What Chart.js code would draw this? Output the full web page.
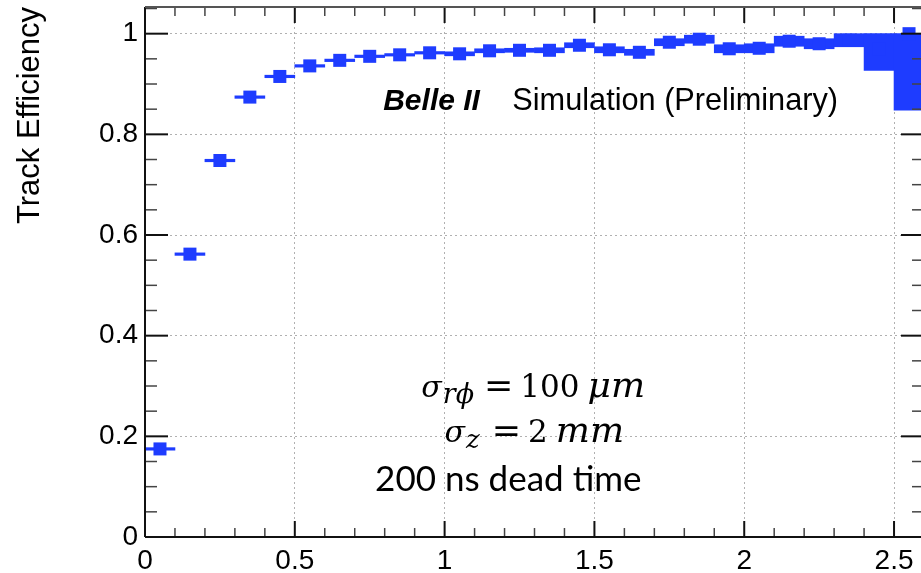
<!DOCTYPE html>
<html>
<head>
<meta charset="utf-8">
<title>Track Efficiency</title>
<script src="https://cdn.jsdelivr.net/npm/chart.js@4.4.1/dist/chart.umd.min.js"></script>
<style>
html, body { margin: 0; padding: 0; background: #fff; overflow: hidden; }
#wrap { position: absolute; left: 0; top: 0; width: 930px; height: 573px; }
#eff { display: block; width: 930px; height: 573px; }
</style>
</head>
<body>
<div id="wrap"><canvas id="eff" width="930" height="573"></canvas></div>
<script>
// bin centres and efficiency per bin
var binCenters = [0.05, 0.15, 0.25, 0.35, 0.45, 0.55, 0.65, 0.75, 0.85, 0.95,
                  1.05, 1.15, 1.25, 1.35, 1.45, 1.55, 1.65, 1.75, 1.85, 1.95,
                  2.05, 2.15, 2.25, 2.35, 2.45, 2.55];
var efficiency = [0.175, 0.562, 0.748, 0.874, 0.915, 0.936, 0.947, 0.955, 0.958, 0.962,
                  0.960, 0.966, 0.967, 0.967, 0.977, 0.968, 0.963, 0.983, 0.989, 0.970,
                  0.971, 0.985, 0.980, 0.987, 0.970, 1.000];
// error box extents below / above the efficiency value
var errLow  = [0.0025, 0.0025, 0.0025, 0.0025, 0.0025, 0.0025, 0.0025, 0.0025, 0.0025, 0.0025,
               0.004, 0.004, 0.004, 0.005, 0.005, 0.006, 0.006, 0.007, 0.008, 0.008,
               0.009, 0.010, 0.010, 0.013, 0.043, 0.152];
var errHigh = [0.0025, 0.0025, 0.0025, 0.0025, 0.0025, 0.0025, 0.0025, 0.0025, 0.0025, 0.0025,
               0.004, 0.004, 0.004, 0.005, 0.005, 0.006, 0.006, 0.007, 0.008, 0.008,
               0.009, 0.010, 0.010, 0.013, 0.030, 0.000];
var xTickValues = [0, 0.5, 1, 1.5, 2, 2.5];
var yTickValues = [0, 0.2, 0.4, 0.6, 0.8, 1];

var BLUE = '#1e3cff';
var SANS = '"Liberation Sans", Arial, sans-serif';
var SERIF = '"DejaVu Serif", "Liberation Serif", serif';

function fmt(v) { return String(Number(v.toFixed(2))); }

var points = binCenters.map(function (x, i) { return { x: x, y: efficiency[i] }; });
var boxes = binCenters.map(function (x, i) {
    return { x: x, y: [efficiency[i] - errLow[i], efficiency[i] + errHigh[i]] };
});

function line(ctx, x1, y1, x2, y2) {
    ctx.beginPath(); ctx.moveTo(x1, y1); ctx.lineTo(x2, y2); ctx.stroke();
}

// draws a list of text runs one after another on the same baseline
function drawRuns(ctx, x, y, runs) {
    runs.forEach(function (r) {
        x += r.gap || 0;
        ctx.font = r.font;
        ctx.fillText(r.text, x, y + (r.dy || 0));
        x += ctx.measureText(r.text).width;
    });
}

// ROOT-like frame: inward ticks on all four sides plus the text labels
var rootFrame = {
    id: 'rootFrame',
    afterDatasetsDraw: function (chart) {
        var ctx = chart.ctx, a = chart.chartArea;
        var xs = chart.scales.x, ys = chart.scales.y;
        ctx.save();
        ctx.lineCap = 'butt';

        for (var i = 0; i <= 26; i++) {
            var px = xs.getPixelForValue(i / 10);
            var major = i % 5 === 0;
            ctx.strokeStyle = major ? '#111' : '#444';
            ctx.lineWidth = major ? 2 : 1.5;
            line(ctx, px, a.bottom, px, a.bottom - (major ? 16 : 9));
            line(ctx, px, a.top, px, a.top + (major ? 16 : 9));
        }
        for (var j = 0; j * 0.05 <= ys.max; j++) {
            var py = ys.getPixelForValue(j * 0.05);
            var maj = j % 4 === 0;
            ctx.strokeStyle = maj ? '#111' : '#444';
            ctx.lineWidth = maj ? 2 : 1.5;
            line(ctx, a.left, py, a.left + (maj ? 23 : 12), py);
            line(ctx, a.right, py, a.right - (maj ? 23 : 12), py);
        }

        ctx.strokeStyle = '#111';
        ctx.lineWidth = 2;
        line(ctx, a.left, a.bottom, a.right, a.bottom);
        line(ctx, a.left, a.top, a.left, a.bottom);
        ctx.strokeStyle = '#555';
        line(ctx, a.left, a.top, a.right, a.top);
        line(ctx, a.right, a.top, a.right, a.bottom);

        ctx.fillStyle = '#000';
        ctx.textBaseline = 'alphabetic';
        ctx.textAlign = 'left';
        ctx.font = 'italic bold 30px ' + SANS;
        ctx.fillText('Belle II', xs.getPixelForValue(0.795), ys.getPixelForValue(0.848));
        ctx.font = '30.7px ' + SANS;
        ctx.fillText('Simulation (Preliminary)', xs.getPixelForValue(1.226), ys.getPixelForValue(0.848));

        drawRuns(ctx, xs.getPixelForValue(0.922), ys.getPixelForValue(0.2784), [
            { text: 'σ', font: 'italic 30px ' + SERIF },
            { text: 'rϕ', font: 'italic 27px ' + SERIF, dy: 6, gap: 1 },
            { text: '=', font: '35px ' + SERIF, gap: 10 },
            { text: '100', font: '31px ' + SERIF, gap: 7 },
            { text: 'μm', font: 'italic 36px ' + SERIF, gap: 8 }
        ]);
        drawRuns(ctx, xs.getPixelForValue(1.0), ys.getPixelForValue(0.1897), [
            { text: 'σ', font: 'italic 30px ' + SERIF },
            { text: 'z', font: 'italic 26px ' + SERIF, dy: 6, gap: 1 },
            { text: '=', font: '35px ' + SERIF, gap: 12 },
            { text: '2', font: '31px ' + SERIF, gap: 7 },
            { text: 'mm', font: 'italic 36px ' + SERIF, gap: 8 }
        ]);
        ctx.font = '35px Lato, "Open Sans", sans-serif';
        ctx.fillText('200 ns dead time', xs.getPixelForValue(0.768), ys.getPixelForValue(0.0905));
        ctx.restore();
    }
};

new Chart(document.getElementById('eff'), {
    type: 'scatter',
    data: {
        datasets: [{
            type: 'scatter',
            data: points,
            pointStyle: 'rect',
            pointRadius: 9.2,
            backgroundColor: BLUE,
            borderWidth: 0,
            order: 0
        }, {
            type: 'bar',
            data: boxes,
            backgroundColor: BLUE,
            borderWidth: 0,
            barPercentage: 1,
            categoryPercentage: 1,
            minBarLength: 2,
            order: 1
        }]
    },
    options: {
        responsive: false,
        animation: false,
        events: [],
        layout: { autoPadding: false, padding: { top: 7, right: 6, left: 0, bottom: 0 } },
        plugins: { legend: { display: false }, tooltip: { enabled: false } },
        scales: {
            x: {
                type: 'linear',
                min: 0,
                max: 2.6,
                offset: false,
                afterBuildTicks: function (s) { s.ticks = xTickValues.map(function (v) { return { value: v }; }); },
                afterFit: function (s) { s.height = 36; s.paddingLeft = 0; s.paddingRight = 0; },
                grid: { color: '#b0b0b0', lineWidth: 1, drawTicks: false, offset: false },
                border: { display: false, dash: [2, 3] },
                ticks: {
                    color: '#000',
                    font: { family: SANS, size: 28 },
                    padding: 7,
                    maxRotation: 0,
                    autoSkip: false,
                    callback: function (v) { return fmt(v); }
                }
            },
            y: {
                type: 'linear',
                min: 0,
                max: 1.053,
                afterBuildTicks: function (s) { s.ticks = yTickValues.map(function (v) { return { value: v }; }); },
                afterFit: function (s) { s.width = 145; s.paddingTop = 0; s.paddingBottom = 0; },
                grid: { color: '#b0b0b0', lineWidth: 1, drawTicks: false },
                border: { display: false, dash: [2, 3] },
                ticks: {
                    color: '#000',
                    font: { family: SANS, size: 28 },
                    padding: 7,
                    autoSkip: false,
                    callback: function (v) { return fmt(v); }
                },
                title: {
                    display: true,
                    text: 'Track Efficiency',
                    align: 'end',
                    color: '#000',
                    font: { family: SANS, size: 31 },
                    padding: { top: 12, bottom: 0 }
                }
            }
        }
    },
    plugins: [rootFrame]
});
</script>
</body>
</html>
